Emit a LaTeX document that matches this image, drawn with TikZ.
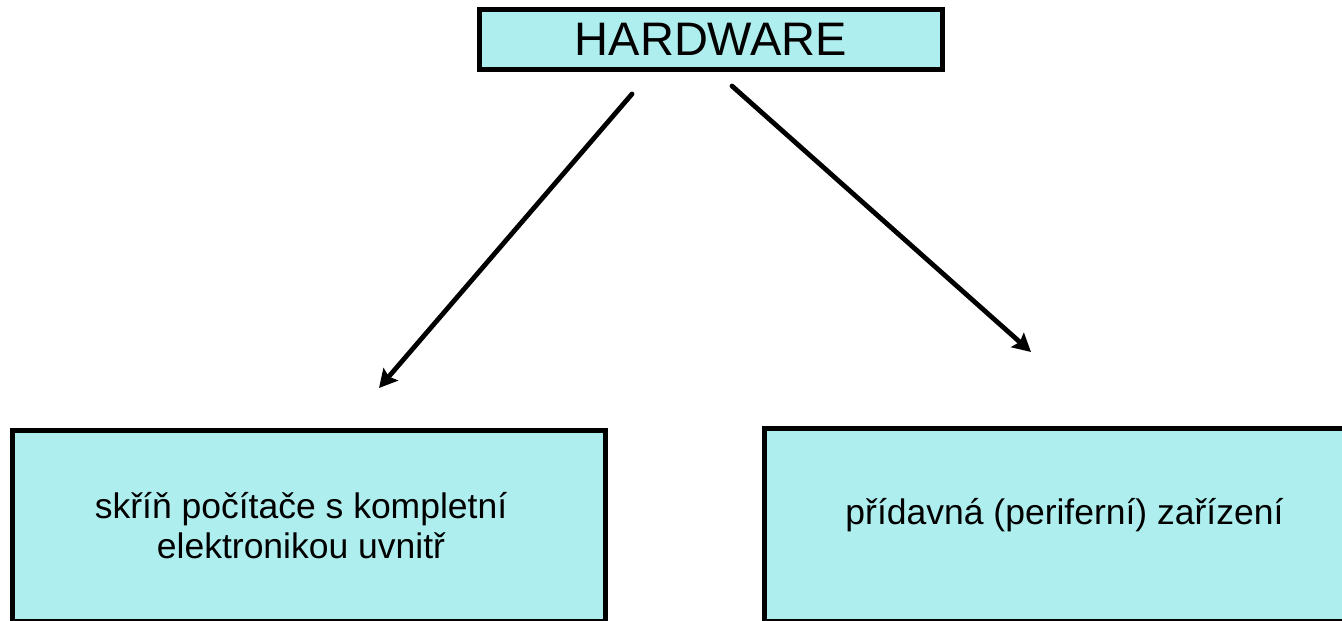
\documentclass[tikz,border=0pt]{standalone}
\usepackage{fontspec}
\setmainfont{Liberation Sans}
\usetikzlibrary{arrows.meta}
\definecolor{boxfill}{HTML}{AFEEEE}
\tikzset{
  hwbox/.style={draw=black, line width=5pt, fill=boxfill, rectangle, inner sep=0pt, outer sep=0pt},
  hwarrow/.style={line width=4.8pt, line cap=round, -{Stealth[length=18pt,width=19pt,inset=3pt]}}
}
\begin{document}
\begin{tikzpicture}[x=1pt,y=-1pt]
\useasboundingbox (0,0) rectangle (1342,621);
\clip (0,0) rectangle (1342,621);
\node[hwbox, minimum width=463pt, minimum height=60pt, font=\fontsize{47}{54}\selectfont] (hw) at (711,39.5) {HARDWARE\hspace{17pt}};
\node[hwbox, minimum width=593pt, minimum height=191pt, align=center, font=\fontsize{35.5}{40}\selectfont] (case) at (309,525.5) {skříň počítače s kompletní\hspace*{16pt}\\elektronikou uvnitř\hspace*{16pt}};
\node[hwbox, minimum width=600pt, minimum height=192.5pt, text height=12pt, text depth=12pt, font=\fontsize{35.5}{40}\selectfont] (peri) at (1064.5,524.75) {přídavná (periferní) zařízení};
\coordinate (a1s) at (632,94);
\coordinate (a1e) at (379,388);
\coordinate (a2s) at (732,86);
\coordinate (a2e) at (1031,352);
\draw[hwarrow] (a1s) -- (a1e);
\draw[hwarrow] (a2s) -- (a2e);
\end{tikzpicture}
\end{document}
